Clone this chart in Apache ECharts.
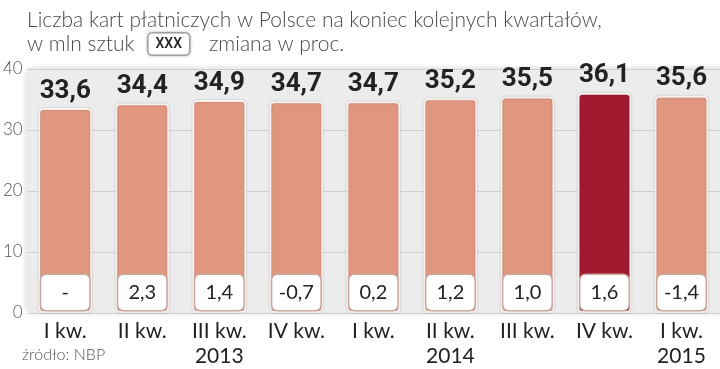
<!DOCTYPE html>
<html><head><meta charset="utf-8">
<script src="https://cdn.jsdelivr.net/npm/echarts@6/dist/echarts.min.js"></script>
<style>html,body{margin:0;padding:0;background:#fff}#c{width:720px;height:369px}</style>
</head><body><div id="c"></div>
<script>
const categories = ['I kw.', 'II kw.', 'III kw.', 'IV kw.', 'I kw.', 'II kw.', 'III kw.', 'IV kw.', 'I kw.'];
const years = ['', '', '2013', '', '', '2014', '', '', '2015'];
const values = [33.6, 34.4, 34.9, 34.7, 34.7, 35.2, 35.5, 36.1, 35.6];
const changes = ['-', '2,3', '1,4', '-0,7', '0,2', '1,2', '1,0', '1,6', '-1,4'];
const highlightIndex = 7;
const yTicks = [0, 10, 20, 30, 40];

const boldFont = 'Roboto, "Liberation Sans Narrow", sans-serif';
const txtFont = 'Lato, "Open Sans", sans-serif';
const chart = echarts.init(document.getElementById('c'));
const fmt = v => String(v.toFixed(1)).replace('.', ',');

chart.setOption({
  animation: false,
  backgroundColor: '#fff',
  title: {
    left: 22, top: 3,
    text: 'Liczba kart płatniczych w Polsce na koniec kolejnych kwartałów,\nw mln sztuk{sp1|}{box|XXX}{sp2|}zmiana w proc.',
    textStyle: {
      fontFamily: txtFont, fontWeight: 300, fontSize: 21, color: '#4a4a4a', lineHeight: 24,
      rich: {
        sp1: { width: 14 },
        sp2: { width: 20 },
        box: { fontFamily: boldFont, fontSize: 14, fontWeight: 500, color: '#222', backgroundColor: '#fff', borderColor: '#aaa', borderWidth: 1.5, borderRadius: 4, padding: [4, 7, 3, 7], shadowColor: 'rgba(0,0,0,0.25)', shadowBlur: 3 }
      }
    }
  },
  graphic: [
    { type: 'rect', z: -10, shape: { x: 25, y: 67, width: 700, height: 247, r: [10, 0, 0, 10] },
      style: { fill: '#ececec', shadowColor: 'rgba(0,0,0,0.12)', shadowBlur: 4 } },
    { type: 'text', left: 22, top: 347, style: { text: 'źródło: NBP', fontFamily: txtFont, fontWeight: 300, fontSize: 16, fill: '#555' } }
  ],
  grid: { left: 23, right: -2, top: 69, bottom: 56 },
  xAxis: {
    type: 'category', data: categories,
    axisLine: { show: false }, axisTick: { show: false },
    axisLabel: {
      margin: 6, interval: 0,
      formatter: (v, i) => v + '\n' + (years[i] ? years[i] : ' '),
      fontFamily: txtFont, fontSize: 21, color: '#222', lineHeight: 25
    }
  },
  yAxis: {
    type: 'value', min: 0, max: 40, interval: 10,
    axisLine: { show: false }, axisTick: { show: false },
    splitLine: { lineStyle: { color: '#cfcfcf', width: 1 } },
    axisLabel: { margin: 4, fontFamily: txtFont, fontWeight: 300, fontSize: 17, color: '#555',
      formatter: v => yTicks.includes(v) ? String(v) : '' }
  },
  series: [
    {
      type: 'bar', barWidth: 54,
      data: values.map((v, i) => ({ value: v, itemStyle: { color: i === highlightIndex ? '#a01b30' : '#e0967f' } })),
      itemStyle: { borderColor: '#f6f1ef', borderWidth: 2, borderRadius: 4, shadowColor: 'rgba(0,0,0,0.2)', shadowBlur: 2 },
      label: { show: true, position: 'top', distance: 4, formatter: p => fmt(p.value),
        fontFamily: boldFont, fontWeight: 'bold', fontSize: 26, color: '#222' }
    },
    {
      type: 'bar', barWidth: 54, barGap: '-100%', silent: true,
      data: values,
      itemStyle: { color: 'transparent' },
      label: { show: true, position: 'insideBottom', distance: 3,
        formatter: p => changes[p.dataIndex],
        fontFamily: txtFont, fontSize: 20, color: '#222',
        backgroundColor: '#fff', borderColor: '#c9a79e', borderWidth: 1.5, borderRadius: 5,
        width: 48, height: 35, lineHeight: 35 }
    }
  ]
});
</script></body></html>
